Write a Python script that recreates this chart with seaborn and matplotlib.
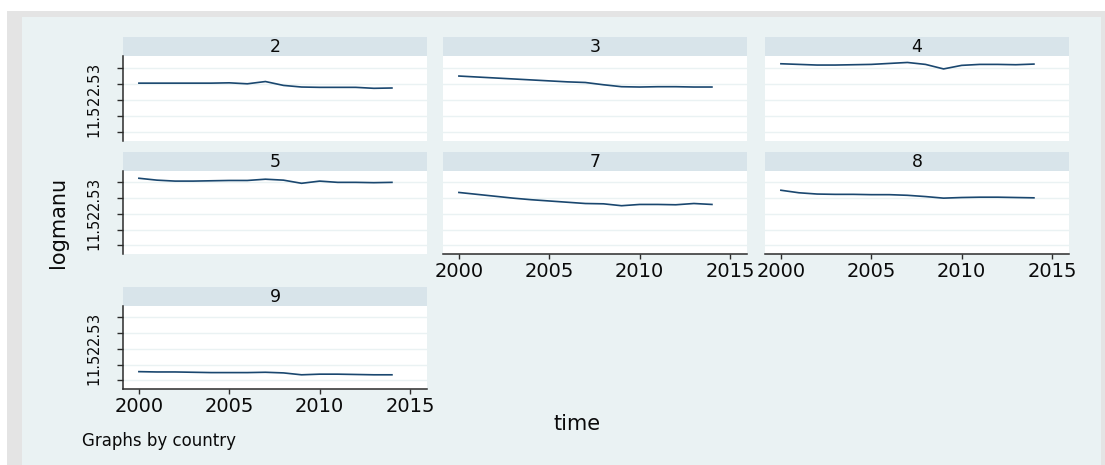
import numpy as np
import pandas as pd
import matplotlib
matplotlib.use("Agg")
import matplotlib.pyplot as plt
from matplotlib.patches import Rectangle
import seaborn as sns

# ---- data -------------------------------------------------------------
years = list(range(2000, 2015))
countries = [2, 3, 4, 5, 7, 8, 9]

logmanu_2 = [2.52, 2.52, 2.52, 2.52, 2.52, 2.53, 2.50, 2.57, 2.45, 2.40, 2.39, 2.39, 2.39, 2.36, 2.37]
logmanu_3 = [2.74, 2.71, 2.68, 2.65, 2.62, 2.59, 2.56, 2.54, 2.47, 2.41, 2.40, 2.41, 2.41, 2.40, 2.40]
logmanu_4 = [3.12, 3.10, 3.08, 3.08, 3.09, 3.10, 3.13, 3.16, 3.10, 2.96, 3.07, 3.10, 3.10, 3.09, 3.11]
logmanu_5 = [3.13, 3.07, 3.04, 3.04, 3.05, 3.06, 3.06, 3.10, 3.07, 2.97, 3.04, 3.00, 3.00, 2.99, 3.00]
logmanu_7 = [2.68, 2.62, 2.56, 2.50, 2.45, 2.41, 2.37, 2.33, 2.32, 2.26, 2.30, 2.30, 2.29, 2.33, 2.30]
logmanu_8 = [2.75, 2.67, 2.63, 2.62, 2.62, 2.61, 2.61, 2.59, 2.55, 2.50, 2.52, 2.53, 2.53, 2.52, 2.51]
logmanu_9 = [1.28, 1.27, 1.27, 1.26, 1.25, 1.25, 1.25, 1.26, 1.24, 1.18, 1.20, 1.20, 1.19, 1.18, 1.18]

series = [logmanu_2, logmanu_3, logmanu_4, logmanu_5, logmanu_7, logmanu_8, logmanu_9]

y_ticks = [1, 1.5, 2, 2.5, 3]
y_ticklabels = ["1", "1.5", "2", "2.5", "3"]
x_ticks = [2000, 2005, 2010, 2015]
x_ticklabels = ["2000", "2005", "2010", "2015"]

df = pd.DataFrame({
    "country": np.repeat(countries, len(years)),
    "time": years * len(countries),
    "logmanu": np.concatenate(series),
})

# ---- style ------------------------------------------------------------
NAVY = "#1A476F"
BG = "#EAF2F3"
STRIP = "#D8E4EA"
GRID = "#EAF2F3"
FRAME = "#E4E4E4"
AXIS = "#2B2B2B"
TXT = "#0A0A0A"

plt.rcParams["font.family"] = ["DejaVu Sans"]

W, H = 1105, 465

g = sns.FacetGrid(df, col="country", col_wrap=3, sharex=True, sharey=True,
                  height=1.5, aspect=2.0)
g.map_dataframe(sns.lineplot, x="time", y="logmanu", color=NAVY, linewidth=1.2)
g.set_titles("")
g.set_axis_labels("", "")

fig = g.figure
fig.set_size_inches(W / 100, H / 100)
fig.set_facecolor("white")

# background frame
fig.add_artist(Rectangle((7 / W, 0), 1, (H - 11) / H, transform=fig.transFigure,
                         facecolor=FRAME, edgecolor="none", zorder=-20))
fig.add_artist(Rectangle((22 / W, 0), (1101 - 22) / W, (H - 17) / H,
                         transform=fig.transFigure, facecolor=BG,
                         edgecolor="none", zorder=-10))

# panel geometry in pixels
col_left = [123, 443, 765]
col_width = 304
rows = [(56, 141), (171, 254), (306, 389)]
strip_h = 19

axes = g.axes.flat
for i, (ax, c) in enumerate(zip(axes, countries)):
    r, k = divmod(i, 3)
    top, bot = rows[r]
    ax.set_position([col_left[k] / W, (H - bot) / H, col_width / W, (bot - top) / H])
    ax.set_facecolor("white")
    ax.set_xlim(1999.12, 2015.94)
    ax.set_ylim(0.73, 3.36)
    ax.set_yticks(y_ticks)
    ax.set_xticks(x_ticks)
    for yv in y_ticks:
        ax.axhline(yv, color=GRID, linewidth=1.0, zorder=0)
    ax.grid(False)
    for s in ax.spines.values():
        s.set_visible(False)

    # strip with the country label
    ph = bot - top
    ax.add_patch(Rectangle((0, 1), 1, strip_h / ph, transform=ax.transAxes,
                           facecolor=STRIP, edgecolor="none", clip_on=False))
    ax.text(0.5, 1 + strip_h / 2 / ph, str(c), transform=ax.transAxes,
            ha="center", va="center", fontsize=12.5, color=TXT)

    # y axis only on the first column
    if k == 0:
        ax.spines["left"].set_visible(True)
        ax.spines["left"].set_color(AXIS)
        ax.spines["left"].set_linewidth(1.1)
        ax.set_yticklabels(y_ticklabels, rotation=90, va="center",
                           family="Liberation Sans Narrow", fontsize=10.5)
        ax.tick_params(axis="y", left=True, labelleft=True, length=4.3,
                       width=1.0, color=AXIS, pad=11, labelcolor=TXT)
    else:
        ax.tick_params(axis="y", left=False, labelleft=False)

    # x axis on the last panel of each column
    bottom_panel = (i >= len(countries) - 3)
    if bottom_panel:
        ax.spines["bottom"].set_visible(True)
        ax.spines["bottom"].set_color(AXIS)
        ax.spines["bottom"].set_linewidth(1.1)
        ax.set_xticklabels(x_ticklabels, fontsize=14)
        ax.tick_params(axis="x", bottom=True, labelbottom=True, length=3.6,
                       width=1.0, color=AXIS, pad=2.0, labelcolor=TXT)
    else:
        ax.tick_params(axis="x", bottom=False, labelbottom=False)
    ax.set_xlabel("")
    ax.set_ylabel("")

fig.text(58 / W, 1 - 222 / H, "logmanu", rotation=90, ha="center", va="center",
         family="Liberation Sans Narrow", fontsize=15, color=TXT)
fig.text(577 / W, 1 - 424 / H, "time", ha="center", va="center",
         fontsize=15, color=TXT)
fig.text(82 / W, 1 - 441 / H, "Graphs by country", ha="left", va="center",
         fontsize=12, color=TXT)

fig.savefig("out.png", dpi=100)
